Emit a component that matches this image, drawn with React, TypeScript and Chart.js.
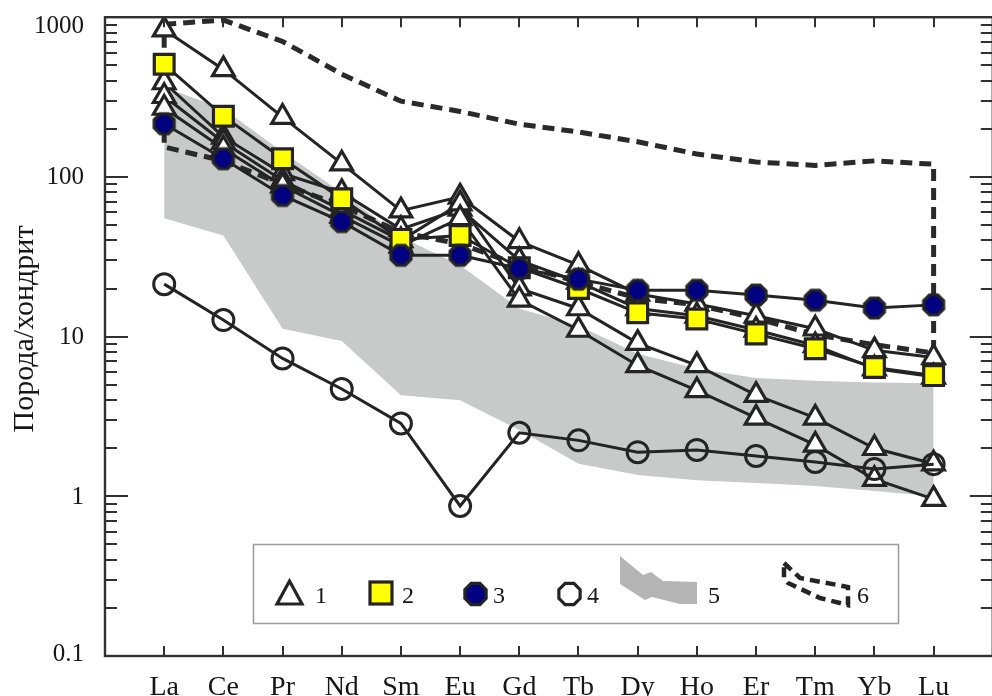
import React, { useEffect, useRef } from 'react';
import { Chart, registerables } from 'chart.js';

Chart.register(...registerables);

// ---------- data ----------
const elements = ['La', 'Ce', 'Pr', 'Nd', 'Sm', 'Eu', 'Gd', 'Tb', 'Dy', 'Ho', 'Er', 'Tm', 'Yb', 'Lu'];
const yTickValues = [0.1, 1, 10, 100, 1000];
const yTickLabels = ['0.1', '1', '10', '100', '1000'];
const yTitle = 'Порода/хондрит';
const legendLabels = ['1', '2', '3', '4', '5', '6'];

// group 1 (open triangles)
const tri1 = [835, 471, 237, 121, 61.5, 75, 39.5, 28, 18.5, 16, 13.5, 11.2, 8.2, 7.4];
const tri2 = [390, 178, 105, 80, 47, 63, 30, 22, 15, 13.5, 11, 8.8, 6.3, 5.6];
const tri3 = [320, 165, 95, 62, 40, 68, 20, 15, 9.1, 6.6, 4.3, 3.1, 2.0, 1.6];
const tri4 = [270, 150, 88, 57, 37, 55, 17, 11, 6.6, 4.6, 3.1, 2.1, 1.28, 0.96];
// group 2 (yellow squares)
const sq1 = [507, 240, 130, 73, 40.6, 43, 27, 20, 14.1, 12.9, 10.4, 8.4, 6.4, 5.7];
// group 3 (navy octagons)
const oct1 = [215, 130, 76.5, 52.5, 32.3, 32.3, 26.7, 22.9, 19.5, 19.5, 18.2, 16.9, 15.1, 15.8];
// group 4 (open circles)
const circ1 = [21.3, 12.7, 7.3, 4.7, 2.86, 0.87, 2.5, 2.24, 1.89, 1.95, 1.79, 1.64, 1.48, 1.59];
// field 5 (grey area)
const field5Upper = [364, 267, 143, 80, 42, 28, 15, 11.7, 7.8, 6.3, 5.5, 5.3, 5.15, 5.1];
const field5Lower = [55, 43, 11.2, 9.4, 4.3, 4.0, 2.6, 1.6, 1.36, 1.26, 1.21, 1.16, 1.08, 1.0];
// field 6 (dashed envelope)
const field6Upper = [902, 960, 705, 440, 298, 257, 214, 191, 166, 139, 124, 118, 126, 120];
const field6Lower = [154, 126, 90, 66, 45, 38, 28, 22, 17.4, 15.8, 13, 10.3, 8.9, 7.9];

// ---------- helpers ----------
const pts = (arr: number[]) => arr.map((v, i) => ({ x: i, y: v }));

const INK = '#242424';
const TEXT = '#161616';

function octagonPath(ctx: CanvasRenderingContext2D, cx: number, cy: number, r: number) {
  ctx.beginPath();
  for (let k = 0; k < 8; k++) {
    const a = Math.PI / 8 + (k * Math.PI) / 4;
    const px = cx + r * Math.cos(a);
    const py = cy + r * Math.sin(a);
    if (k === 0) ctx.moveTo(px, py);
    else ctx.lineTo(px, py);
  }
  ctx.closePath();
}

function makeOctagon(fill: string, r: number) {
  const c = document.createElement('canvas');
  const s = Math.ceil(2 * r + 6);
  c.width = s;
  c.height = s;
  const g = c.getContext('2d')!;
  octagonPath(g, s / 2, s / 2, r);
  g.fillStyle = fill;
  g.fill();
  g.lineWidth = 3.2;
  g.strokeStyle = INK;
  g.stroke();
  return c;
}

const framePlugin = {
  id: 'framePlugin',
  afterDatasetsDraw(chart: any) {
    const { ctx, chartArea, scales } = chart;
    const { left, right, top, bottom } = chartArea;
    const xs = scales.x;
    const ys = scales.y;
    ctx.save();
    ctx.strokeStyle = '#303030';
    ctx.lineWidth = 2.4;
    ctx.setLineDash([]);
    ctx.strokeRect(left, top, right - left, bottom - top);

    // y ticks (inside, both sides)
    ctx.lineWidth = 2;
    for (let d = -1; d <= 3; d++) {
      for (let m = 1; m <= 9; m++) {
        const v = m * Math.pow(10, d);
        if (v > 1000.0001) break;
        const py = Math.round(ys.getPixelForValue(v));
        const len = m === 1 ? 23 : 12;
        ctx.beginPath();
        ctx.moveTo(left, py);
        ctx.lineTo(left + len, py);
        ctx.moveTo(right, py);
        ctx.lineTo(right - len, py);
        ctx.stroke();
      }
    }
    // x ticks (inside, top and bottom)
    elements.forEach((_, i) => {
      const px = Math.round(xs.getPixelForValue(i));
      ctx.beginPath();
      ctx.moveTo(px, bottom);
      ctx.lineTo(px, bottom - 10);
      ctx.moveTo(px, top);
      ctx.lineTo(px, top + 10);
      ctx.stroke();
    });

    // y tick labels
    ctx.fillStyle = TEXT;
    ctx.font = '25px "Liberation Serif"';
    ctx.textAlign = 'right';
    ctx.textBaseline = 'middle';
    yTickValues.forEach((v, i) => {
      let py = ys.getPixelForValue(v);
      py = Math.min(Math.max(py, 25), 653);
      ctx.fillText(yTickLabels[i], 84, py + 1);
    });

    // x tick labels
    ctx.font = '28px "Liberation Serif"';
    ctx.textAlign = 'center';
    ctx.textBaseline = 'alphabetic';
    elements.forEach((el, i) => {
      ctx.fillText(el, xs.getPixelForValue(i), 695);
    });

    // y title
    ctx.save();
    ctx.translate(33, 329);
    ctx.rotate(-Math.PI / 2);
    ctx.font = '30px "Liberation Serif"';
    ctx.textAlign = 'center';
    ctx.textBaseline = 'alphabetic';
    ctx.fillText(yTitle, 0, 0);
    ctx.restore();

    // legend box
    ctx.strokeStyle = '#9a9a9a';
    ctx.lineWidth = 1.5;
    ctx.strokeRect(253.5, 544.5, 645, 79);

    const ly = 594;
    ctx.strokeStyle = INK;
    ctx.lineWidth = 3.2;
    // 1: triangle
    ctx.beginPath();
    ctx.moveTo(289.5, 581);
    ctx.lineTo(302, 604);
    ctx.lineTo(277, 604);
    ctx.closePath();
    ctx.fillStyle = '#ffffff';
    ctx.fill();
    ctx.stroke();
    // 2: square
    ctx.fillStyle = '#ffff00';
    ctx.fillRect(370, 582, 22, 22);
    ctx.strokeRect(370, 582, 22, 22);
    // 3: octagon navy
    octagonPath(ctx, 475.5, ly, 11.5);
    ctx.fillStyle = '#000080';
    ctx.fill();
    ctx.stroke();
    // 4: open octagon
    octagonPath(ctx, 569.5, ly, 11.5);
    ctx.stroke();
    // 5: grey field
    ctx.beginPath();
    const f5 = [[620, 556], [643, 575], [651, 572], [663, 581], [697, 582], [697, 604], [680, 604], [652, 597], [645, 600], [620, 584]];
    f5.forEach(([a, b], k) => (k === 0 ? ctx.moveTo(a, b) : ctx.lineTo(a, b)));
    ctx.closePath();
    ctx.fillStyle = '#b4b4b4';
    ctx.fill();
    // 6: dashed envelope
    ctx.beginPath();
    const f6 = [[784, 563], [800, 578], [848, 587], [848, 605], [820, 598], [788, 583], [784, 578]];
    f6.forEach(([a, b], k) => (k === 0 ? ctx.moveTo(a, b) : ctx.lineTo(a, b)));
    ctx.closePath();
    ctx.setLineDash([10, 6]);
    ctx.lineWidth = 4.5;
    ctx.stroke();
    ctx.setLineDash([]);

    // legend labels
    ctx.fillStyle = TEXT;
    ctx.font = '24px "Liberation Serif"';
    ctx.textAlign = 'left';
    ctx.textBaseline = 'alphabetic';
    const lx = [315, 402, 493, 587, 708, 857];
    legendLabels.forEach((t, i) => ctx.fillText(t, lx[i], 603));
    ctx.restore();
  },
};

export default function App() {
  const ref = useRef<HTMLCanvasElement>(null);

  useEffect(() => {
    const canvas = ref.current!;
    const octNavy = makeOctagon('#000080', 10.8);

    const triStyle = (data: number[]) => ({
      data: pts(data),
      borderColor: INK,
      borderWidth: 3,
      pointStyle: 'triangle' as const,
      pointRadius: 12.5,
      pointBorderWidth: 3.2,
      pointBorderColor: INK,
      pointBackgroundColor: '#ffffff',
      fill: false,
      order: 3,
    });

    const env6 = [
      ...pts(field6Upper),
      ...pts(field6Lower).reverse(),
      { x: 0, y: field6Upper[0] },
    ];

    const chart = new Chart(canvas, {
      type: 'line',
      data: {
        datasets: [
          {
            label: 'field5Lower',
            data: pts(field5Lower),
            borderColor: 'rgba(0,0,0,0)',
            borderWidth: 0,
            pointRadius: 0,
            fill: false,
            order: 10,
          },
          {
            label: 'field5Upper',
            data: pts(field5Upper),
            borderColor: 'rgba(0,0,0,0)',
            borderWidth: 0,
            pointRadius: 0,
            backgroundColor: '#c8c9c9',
            fill: { target: 0 },
            order: 9,
          },
          {
            label: 'field6',
            data: env6,
            borderColor: '#2a2a2a',
            borderWidth: 5,
            borderDash: [12, 7],
            borderCapStyle: 'butt',
            pointRadius: 0,
            fill: false,
            order: 8,
          },
          { label: '1a', ...triStyle(tri4) },
          { label: '1b', ...triStyle(tri3) },
          { label: '1c', ...triStyle(tri2) },
          { label: '1d', ...triStyle(tri1) },
          {
            label: '4',
            data: pts(circ1),
            borderColor: INK,
            borderWidth: 3,
            pointStyle: 'circle',
            pointRadius: 10.5,
            pointBorderWidth: 3,
            pointBorderColor: INK,
            pointBackgroundColor: 'rgba(0,0,0,0)',
            fill: false,
            order: 2,
          },
          {
            label: '2',
            data: pts(sq1),
            borderColor: INK,
            borderWidth: 3,
            pointStyle: 'rect',
            pointRadius: 14,
            pointBorderWidth: 3.2,
            pointBorderColor: INK,
            pointBackgroundColor: '#ffff00',
            fill: false,
            order: 1,
          },
          {
            label: '3',
            data: pts(oct1),
            borderColor: INK,
            borderWidth: 3,
            pointStyle: octNavy as any,
            pointRadius: 11,
            fill: false,
            order: 0,
          },
        ] as any,
      },
      options: {
        responsive: false,
        maintainAspectRatio: false,
        devicePixelRatio: 1,
        animation: false,
        events: [],
        layout: { padding: { left: 105, right: 9, top: 13, bottom: 40 } },
        elements: { line: { tension: 0 } },
        scales: {
          x: { type: 'linear', min: -1, max: 14, display: false },
          y: { type: 'logarithmic', min: 0.1, max: 1000, display: false },
        },
        plugins: {
          legend: { display: false },
          tooltip: { enabled: false },
          filler: { drawTime: 'beforeDatasetsDraw' },
        } as any,
      },
      plugins: [framePlugin],
    });
    return () => chart.destroy();
  }, []);

  return (
    <div
      style={{
        position: 'fixed',
        left: 0,
        top: 0,
        width: 992,
        height: 696,
        overflow: 'hidden',
        background: '#ffffff',
      }}
    >
      <canvas ref={ref} width={1010} height={696} style={{ display: 'block', width: 1010, height: 696 }} />
    </div>
  );
}
